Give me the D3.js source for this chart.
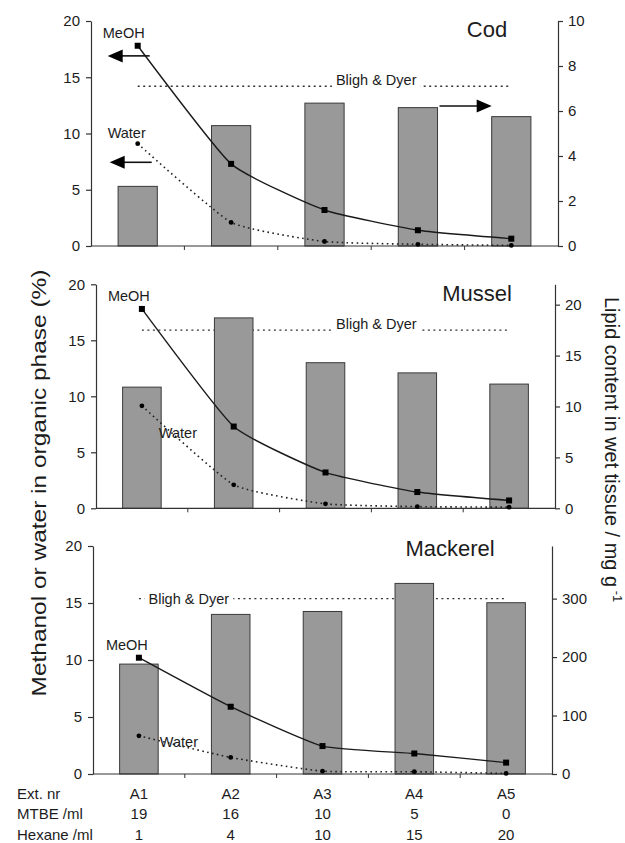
<!DOCTYPE html>
<html><head><meta charset="utf-8">
<script src="https://cdn.jsdelivr.net/npm/d3@7"></script>
<style>
body{margin:0;background:#fff}
text{font-family:"Liberation Sans",Arial,sans-serif;fill:#1c1c1c}
</style>
</head><body>
<svg id="c" width="625" height="843"></svg>
<script>
// ---------- data ----------
const categories = ["A1","A2","A3","A4","A5"];
const mtbeMl   = [19,16,10,5,0];
const hexaneMl = [1,4,10,15,20];
const leftTicks = [0,5,10,15,20];

const codMeOH  = [17.8, 7.3, 3.2, 1.4, 0.65];
const codWater = [9.1, 2.1, 0.4, 0.15, 0.05];
const codLipid = [2.65, 5.35, 6.35, 6.15, 5.75];
const codBD = 7.1;
const codRightTicks = [0,2,4,6,8,10];

const musselMeOH  = [17.8, 7.3, 3.2, 1.45, 0.7];
const musselWater = [9.15, 2.1, 0.4, 0.15, 0.1];
const musselLipid = [11.9, 18.7, 14.3, 13.3, 12.2];
const musselBD = 17.5;
const musselRightTicks = [0,5,10,15,20];

const mackerelMeOH  = [10.2, 5.9, 2.45, 1.8, 1.0];
const mackerelWater = [3.35, 1.45, 0.25, 0.2, 0.05];
const mackerelLipid = [188, 273, 278, 326, 293];
const mackerelBD = 300;
const mackerelRightTicks = [0,100,200,300];

const leftTitle = "Methanol or water in organic phase (%)";
const rightTitle = "Lipid content in wet tissue / mg g";
const tableLabels = ["Ext. nr","MTBE /ml","Hexane /ml"];

// ---------- layout ----------
const panels = [
  {title:"Cod", meoh:codMeOH, water:codWater, lipid:codLipid, bd:codBD, rMax:10, rTicks:codRightTicks,
   x0:91, x1:558, yTop:21, yBot:246, titleX:487, titleY:37,
   meohLbl:[-14,-13], waterLbl:[-11,-11], bdPos:"34", bdDy:-1.5, arrows:true},
  {title:"Mussel", meoh:musselMeOH, water:musselWater, lipid:musselLipid, bd:musselBD, rMax:22, rTicks:musselRightTicks,
   x0:96, x1:555, yTop:284.3, yBot:508.3, titleX:477, titleY:301,
   meohLbl:[-13,-13], waterLbl:[36,27], bdPos:"34", bdDy:-1, arrows:false},
  {title:"Mackerel", meoh:mackerelMeOH, water:mackerelWater, lipid:mackerelLipid, bd:mackerelBD, rMax:390, rTicks:mackerelRightTicks,
   x0:93, x1:552, yTop:546, yBot:774, titleX:450, titleY:556,
   meohLbl:[-12,-13], waterLbl:[40,6], bdPos:"12", bdDy:5, arrows:false}
];

const svg = d3.select("#c");
const ink = "#1a1a1a";
let lastX = null;

panels.forEach(p => {
  const g = svg.append("g");
  const x = d3.scaleBand().domain(categories).range([p.x0,p.x1]).paddingInner(0.58).paddingOuter(0.29);
  const yL = d3.scaleLinear().domain([0,20]).range([p.yBot,p.yTop]);
  const yR = d3.scaleLinear().domain([0,p.rMax]).range([p.yBot,p.yTop]);
  const cx = c => x(c) + x.bandwidth()/2;
  lastX = cx;

  // Bligh & Dyer reference line
  const yb = yR(p.bd);
  g.append("line").attr("x1",cx("A1")).attr("x2",cx("A5")).attr("y1",yb).attr("y2",yb)
    .attr("stroke","#333").attr("stroke-width",1.3).attr("stroke-dasharray","2,3.5");
  const lx = p.bdPos==="34" ? (cx("A3")+cx("A4"))/2+5 : (cx("A1")+cx("A2"))/2+4;
  const bt = g.append("text").attr("x",lx).attr("y",yb+p.bdDy).attr("text-anchor","middle")
    .attr("font-size",14.5).text("Bligh & Dyer");
  const bb = bt.node().getBBox();
  g.insert("rect", "text").attr("x",bb.x-4).attr("y",yb-2).attr("width",bb.width+8).attr("height",4).attr("fill","#fff");

  // bars
  g.selectAll(".bar").data(p.lipid).enter().append("rect")
    .attr("x",(d,i)=>x(categories[i])).attr("y",d=>yR(d))
    .attr("width",x.bandwidth()).attr("height",d=>p.yBot-yR(d))
    .attr("fill","#999").attr("stroke","#3a3a3a").attr("stroke-width",1);

  // axes
  const la = g.append("g").attr("transform",`translate(${p.x0},0)`)
    .call(d3.axisLeft(yL).tickValues(leftTicks).tickSize(5).tickSizeOuter(0).tickPadding(6));
  const ra = g.append("g").attr("transform",`translate(${p.x1},0)`)
    .call(d3.axisRight(yR).tickValues(p.rTicks).tickSize(5).tickSizeOuter(0).tickPadding(5));
  [la,ra].forEach(a=>{
    a.selectAll("path,line").attr("stroke","#333").attr("stroke-width",1.2);
    a.selectAll("text").attr("font-size",15).attr("fill",ink).style("font-family","'Liberation Sans',Arial,sans-serif");
  });
  g.append("line").attr("x1",p.x0).attr("x2",p.x1).attr("y1",p.yBot).attr("y2",p.yBot)
    .attr("stroke","#333").attr("stroke-width",1.2);
  g.selectAll(".xt").data(categories.slice(1)).enter().append("line")
    .attr("x1",c=>cx(c)-x.step()/2).attr("x2",c=>cx(c)-x.step()/2)
    .attr("y1",p.yBot).attr("y2",p.yBot+4).attr("stroke","#333").attr("stroke-width",1);

  // lines
  const line = d3.line().x((d,i)=>cx(categories[i])).y(d=>yL(d)).curve(d3.curveCardinal.tension(0.55));
  g.append("path").attr("d",line(p.water)).attr("fill","none").attr("stroke","#222")
    .attr("stroke-width",1.6).attr("stroke-dasharray","1.6,3.4");
  g.append("path").attr("d",line(p.meoh)).attr("fill","none").attr("stroke","#1a1a1a").attr("stroke-width",1.4);
  g.selectAll(".sq").data(p.meoh).enter().append("rect")
    .attr("x",(d,i)=>cx(categories[i])-3).attr("y",d=>yL(d)-3).attr("width",6).attr("height",6).attr("fill","#000");
  g.selectAll(".ci").data(p.water).enter().append("circle")
    .attr("cx",(d,i)=>cx(categories[i])).attr("cy",d=>yL(d)).attr("r",2.4).attr("fill","#000");

  // series labels
  g.append("text").attr("x",cx("A1")+p.meohLbl[0]).attr("y",yL(p.meoh[0])+p.meohLbl[1]+5)
    .attr("text-anchor","middle").attr("font-size",14.5).text("MeOH");
  g.append("text").attr("x",cx("A1")+p.waterLbl[0]).attr("y",yL(p.water[0])+p.waterLbl[1]+5)
    .attr("text-anchor","middle").attr("font-size",14.5).text("Water");

  // title
  g.append("text").attr("x",p.titleX).attr("y",p.titleY).attr("text-anchor","middle")
    .attr("font-size",22).text(p.title);

  // arrows (Cod only)
  if (p.arrows) {
    const arrow = (xt, xs, y, dir) => {
      g.append("line").attr("x1",xs).attr("x2",xt - dir*14).attr("y1",y).attr("y2",y)
        .attr("stroke","#111").attr("stroke-width",1.6);
      g.append("path").attr("d",`M${xt},${y} L${xt-dir*15},${y-6.5} L${xt-dir*15},${y+6.5} Z`).attr("fill","#000");
    };
    arrow(cx("A1")-30, cx("A1")+12, yL(16.9), -1);
    arrow(cx("A1")-28, cx("A1")+14, yL(7.44), -1);
    arrow(x("A5"), x("A4")+x.bandwidth()+2, yR(6.22), 1);
  }
});

// axis titles
svg.append("text").attr("transform","translate(46,483) rotate(-90)").attr("text-anchor","middle")
  .attr("font-size",21).attr("textLength",427).attr("lengthAdjust","spacingAndGlyphs").text(leftTitle);
const rt = svg.append("text").attr("transform","translate(605,297) rotate(90)").attr("text-anchor","start")
  .attr("font-size",20);
rt.append("tspan").text(rightTitle);
rt.append("tspan").attr("font-size",13).attr("dy",-8).text(" -1");

// table
const rows = [categories, mtbeMl, hexaneMl];
const rowY = [798.5, 818.5, 840];
rows.forEach((vals,r)=>{
  svg.append("text").attr("x",17).attr("y",rowY[r]).attr("font-size",15).text(tableLabels[r]);
  svg.selectAll(null).data(vals).enter().append("text")
    .attr("x",(d,i)=>lastX(categories[i])).attr("y",rowY[r]).attr("text-anchor","middle")
    .attr("font-size",15).text(d=>d);
});
</script>
</body></html>
